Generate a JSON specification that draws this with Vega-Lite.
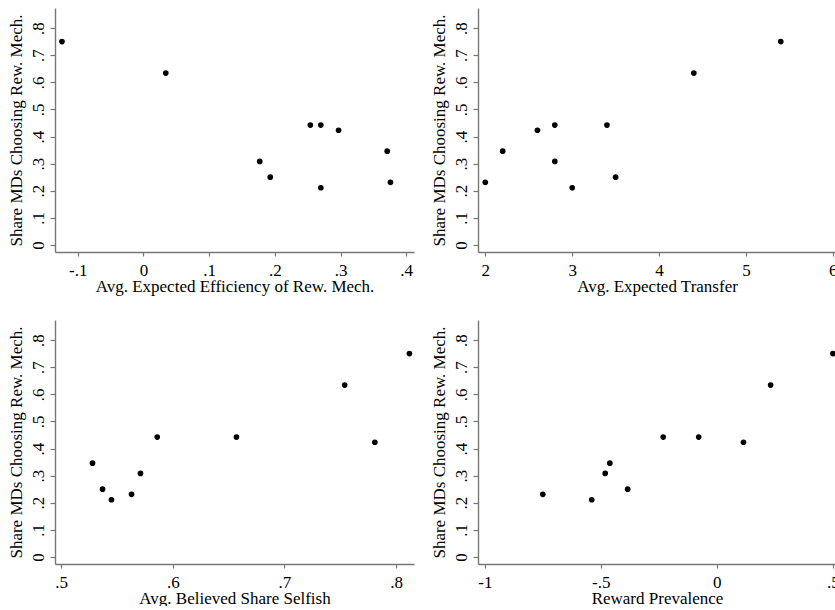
{
  "$schema": "https://vega.github.io/schema/vega-lite/v6.json",
  "background": "white",
  "padding": {"left": 6, "top": 8, "right": 0, "bottom": 0},
  "autosize": {"type": "pad"},
  "bounds": "flush",
  "columns": 2,
  "spacing": {"row": 68, "column": 64},
  "datasets": {
    "obs": [
      {"share": 0.75, "efficiency": -0.124, "transfer": 5.4, "selfish": 0.812, "reward": 0.5},
      {"share": 0.634, "efficiency": 0.034, "transfer": 4.4, "selfish": 0.754, "reward": 0.232},
      {"share": 0.442, "efficiency": 0.254, "transfer": 2.8, "selfish": 0.586, "reward": -0.231},
      {"share": 0.442, "efficiency": 0.27, "transfer": 3.4, "selfish": 0.657, "reward": -0.078},
      {"share": 0.423, "efficiency": 0.297, "transfer": 2.6, "selfish": 0.781, "reward": 0.115},
      {"share": 0.346, "efficiency": 0.371, "transfer": 2.2, "selfish": 0.528, "reward": -0.461},
      {"share": 0.308, "efficiency": 0.177, "transfer": 2.8, "selfish": 0.571, "reward": -0.481},
      {"share": 0.25, "efficiency": 0.193, "transfer": 3.5, "selfish": 0.537, "reward": -0.384},
      {"share": 0.211, "efficiency": 0.27, "transfer": 3.0, "selfish": 0.545, "reward": -0.539},
      {"share": 0.231, "efficiency": 0.376, "transfer": 2.0, "selfish": 0.563, "reward": -0.75}
    ]
  },
  "concat": [
    {
      "width": 359, "height": 244,
      "data": {"name": "obs"},
      "mark": {"type": "point", "filled": true, "color": "black", "size": 32, "opacity": 1},
      "encoding": {
        "x": {"field": "efficiency", "type": "quantitative",
              "scale": {"domain": [-0.1346, 0.4118], "nice": false, "zero": false},
              "axis": {"values": [-0.1, 0, 0.1, 0.2, 0.3, 0.4], "title": "Avg. Expected Efficiency of Rew. Mech."}},
        "y": {"field": "share", "type": "quantitative",
              "scale": {"domain": [-0.026, 0.874], "nice": false, "zero": false},
              "axis": {"values": [0, 0.1, 0.2, 0.3, 0.4, 0.5, 0.6, 0.7, 0.8], "title": "Share MDs Choosing Rew. Mech."}}
      }
    },
    {
      "width": 358, "height": 244,
      "data": {"name": "obs"},
      "mark": {"type": "point", "filled": true, "color": "black", "size": 32, "opacity": 1},
      "encoding": {
        "x": {"field": "transfer", "type": "quantitative",
              "scale": {"domain": [1.916, 6.036], "nice": false, "zero": false},
              "axis": {"values": [2, 3, 4, 5, 6], "title": "Avg. Expected Transfer"}},
        "y": {"field": "share", "type": "quantitative",
              "scale": {"domain": [-0.026, 0.874], "nice": false, "zero": false},
              "axis": {"values": [0, 0.1, 0.2, 0.3, 0.4, 0.5, 0.6, 0.7, 0.8], "title": "Share MDs Choosing Rew. Mech."}}
      }
    },
    {
      "width": 359, "height": 244,
      "data": {"name": "obs"},
      "mark": {"type": "point", "filled": true, "color": "black", "size": 32, "opacity": 1},
      "encoding": {
        "x": {"field": "selfish", "type": "quantitative",
              "scale": {"domain": [0.4944, 0.8161], "nice": false, "zero": false},
              "axis": {"values": [0.5, 0.6, 0.7, 0.8], "title": "Avg. Believed Share Selfish"}},
        "y": {"field": "share", "type": "quantitative",
              "scale": {"domain": [-0.026, 0.874], "nice": false, "zero": false},
              "axis": {"values": [0, 0.1, 0.2, 0.3, 0.4, 0.5, 0.6, 0.7, 0.8], "title": "Share MDs Choosing Rew. Mech."}}
      }
    },
    {
      "width": 358, "height": 244,
      "data": {"name": "obs"},
      "mark": {"type": "point", "filled": true, "color": "black", "size": 32, "opacity": 1},
      "encoding": {
        "x": {"field": "reward", "type": "quantitative",
              "scale": {"domain": [-1.0293, 0.5138], "nice": false, "zero": false},
              "axis": {"values": [-1, -0.5, 0, 0.5], "title": "Reward Prevalence"}},
        "y": {"field": "share", "type": "quantitative",
              "scale": {"domain": [-0.026, 0.874], "nice": false, "zero": false},
              "axis": {"values": [0, 0.1, 0.2, 0.3, 0.4, 0.5, 0.6, 0.7, 0.8], "title": "Share MDs Choosing Rew. Mech."}}
      }
    }
  ],
  "config": {
    "view": {"stroke": null},
    "axis": {
      "grid": false,
      "domainColor": "#777777",
      "domainWidth": 1.4,
      "tickColor": "#777777",
      "tickWidth": 1.2,
      "labelFont": "Liberation Serif",
      "labelFontSize": 17,
      "labelColor": "black",
      "titleFont": "Liberation Serif",
      "titleFontSize": 17,
      "titleFontWeight": "normal",
      "titleColor": "black",
      "labelFlush": false,
      "labelOverlap": false,
      "labelExpr": "(datum.value < 0 ? '-' : '') + replace(format(abs(datum.value), '.2~f'), '0.', '.')"
    },
    "axisX": {"tickSize": 4, "labelPadding": 6, "titlePadding": 0},
    "axisY": {"tickSize": 5, "labelAngle": -90, "labelAlign": "center", "labelBaseline": "bottom", "labelPadding": 3, "titlePadding": 4}
  }
}
